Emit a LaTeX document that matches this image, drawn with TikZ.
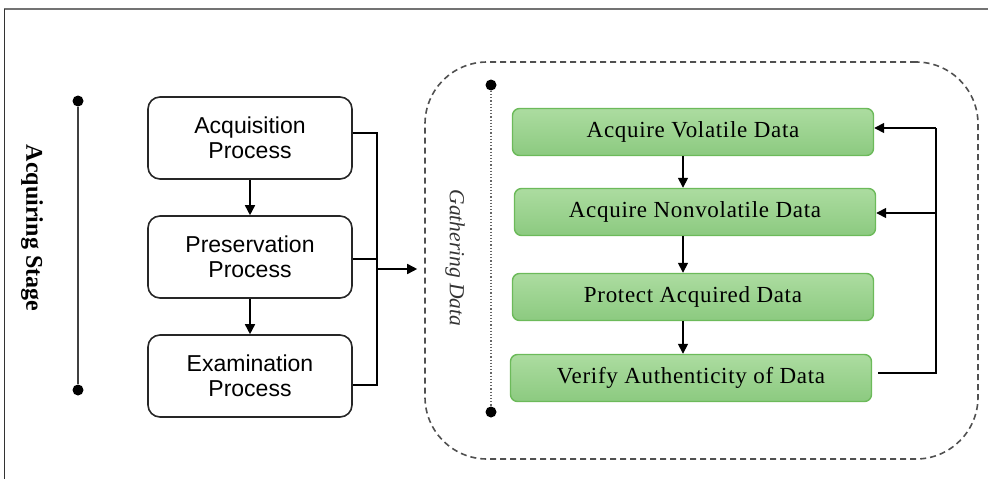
\documentclass[tikz,border=0pt]{standalone}
\usepackage{fontspec}
\setmainfont{Liberation Serif}
\newfontfamily\arialfont{Liberation Sans}
\newfontfamily\stepfont[LetterSpace=3]{Liberation Serif}
\usetikzlibrary{arrows.meta}
\definecolor{gtop}{RGB}{172,220,160}
\definecolor{gbot}{RGB}{140,202,128}
\definecolor{gline}{RGB}{108,186,90}
\definecolor{dashgray}{RGB}{80,80,80}
\tikzset{
  arr/.style={line width=1.6pt,-{Triangle[length=10pt,width=10pt]}},
  conn/.style={line width=1.6pt},
  procbox/.style={draw=black!85,line width=1.6pt,rounded corners=12pt,fill=white,
    minimum width=204pt,minimum height=82pt,align=center,
    font=\arialfont\fontsize{23}{25}\selectfont},
  stepbox/.style={draw=gline,line width=1.4pt,rounded corners=7pt,
    top color=gtop,bottom color=gbot,minimum width=361pt,minimum height=47pt,
    font=\stepfont\fontsize{23}{26}\selectfont},
  enddot/.style={circle,fill=black,inner sep=0pt,minimum size=11pt},
}
\begin{document}
\begin{tikzpicture}[x=1pt,y=-1pt]
\useasboundingbox (0,0) rectangle (988,479);
% page frame
\draw[line width=2pt,black!55] (4,9) -- (988,9);
\draw[line width=1pt,black!80] (4,9) -- (4,479);

% acquiring stage bar
\node[enddot] (s1) at (78,101) {};
\node[enddot] (s2) at (78,390) {};
\draw[line width=2pt,black!75] (s1) -- (s2);
\node[rotate=-90,font=\bfseries\fontsize{24}{28}\selectfont] (stage) at (32,228) {Acquiring Stage};

% process boxes
\node[procbox] (acq) at (250,138) {Acquisition\\Process};
\node[procbox] (pres) at (250,257) {Preservation\\Process};
\node[procbox] (exam) at (250,376) {Examination\\Process};
\draw[arr] (acq) -- (pres);
\draw[arr] (pres) -- (exam);

% gathering data group
\node[draw=dashgray,dash pattern=on 6pt off 4pt,line width=1.6pt,rounded corners=62pt,
  minimum width=553pt,minimum height=397pt] (gather) at (701.5,260.5) {};

% bracket joining the process boxes
\coordinate (jt) at (377,133);
\coordinate (jp) at (377,259);
\coordinate (jb) at (377,385);
\coordinate (jm) at (377,269);
\draw[conn] (acq.east |- jt) -- (jt) -- (jb) -- (exam.east |- jb);
\draw[conn] (pres.east |- jp) -- (jp);
\draw[arr,shorten >=7pt] (jm) -- (gather.west |- jm);

% gathering data bar
\node[enddot] (g1) at (491,85) {};
\node[enddot] (g2) at (491,412) {};
\draw[line width=1.2pt,black!60,dotted] (g1) -- (g2);
\node[rotate=-90,font=\itshape\fontsize{21.5}{25}\selectfont,black!80] (glabel) at (455,258) {Gathering Data};

% steps
\node[stepbox] (v1) at (693,132) {Acquire Volatile Data};
\node[stepbox] (v2) at (695,212) {Acquire Nonvolatile Data};
\node[stepbox] (v3) at (693,297) {Protect Acquired Data};
\node[stepbox] (v4) at (691,378) {Verify Authenticity of Data};
\draw[arr] ([xshift=-10pt]v1.south) -- ([xshift=-12pt]v2.north);
\draw[arr] ([xshift=-12pt]v2.south) -- ([xshift=-10pt]v3.north);
\draw[arr] ([xshift=-10pt]v3.south) -- ([xshift=-8pt]v4.north);

% feedback loop
\coordinate (f4) at (936,373);
\coordinate (f2) at (936,213);
\coordinate (f1) at (936,128);
\draw[conn] ([xshift=6pt]v4.east |- f4) -- (f4) -- (f1);
\draw[arr] (f1) -- (v1.east |- f1);
\draw[arr] (f2) -- (v2.east |- f2);
\end{tikzpicture}
\end{document}
